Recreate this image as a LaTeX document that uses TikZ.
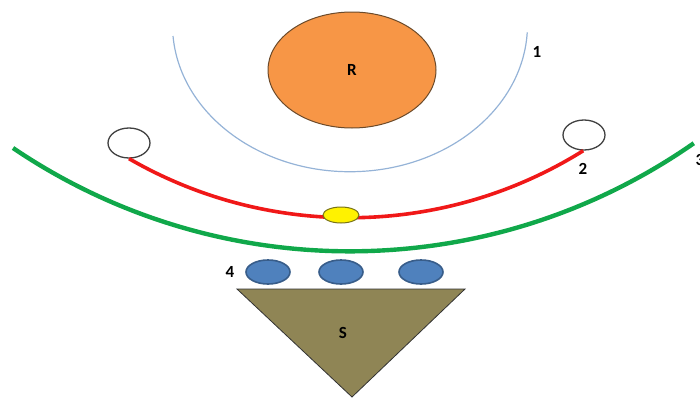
\documentclass[tikz,border=0pt]{standalone}
\usepackage{fontspec}
\setmainfont{Carlito}
\usetikzlibrary{shapes.geometric}
\definecolor{rOrange}{HTML}{F79646}
\definecolor{rBrown}{HTML}{6B4A2A}
\definecolor{arcBlue}{HTML}{95B3D7}
\definecolor{arcRed}{HTML}{F01818}
\definecolor{arcGreen}{HTML}{10A84A}
\definecolor{beadFill}{HTML}{4F81BD}
\definecolor{beadLine}{HTML}{385D8A}
\definecolor{sOlive}{HTML}{8F8555}

\begin{document}
\begin{tikzpicture}[x=1pt,y=-1pt,
  lbl/.style={font=\fontsize{17}{20}\selectfont\bfseries},
  ring/.style={ellipse,draw=black!75,line width=1.3pt,fill=white,minimum width=42pt,minimum height=30pt,inner sep=0pt},
  bead/.style={ellipse,draw=beadLine,line width=1.6pt,fill=beadFill,minimum width=44pt,minimum height=24pt,inner sep=0pt}]
\useasboundingbox (0,0) rectangle (700,399);
% core and inner orbit
\node[ellipse,draw=rBrown,line width=1pt,fill=rOrange,minimum width=168pt,minimum height=116pt,lbl] (R) at (352,70) {R};
\draw[arcBlue,line width=1.2pt] (173,36) arc[start angle=175.6,end angle=3,x radius=177.5,y radius=147];
\node[lbl] (n1) at (537,52) {1};
% rail with end rings
\node[ring] (cL) at (129,143) {};
\node[ring] (cR) at (584,135) {};
\draw[arcRed,line width=3.6pt] (cL.south) arc[start angle=120,end angle=58,radius=441];
\node[ellipse,draw=olive!80!black,line width=1pt,fill=yellow,minimum width=36pt,minimum height=16pt,inner sep=0pt] (Y) at (341,215) {};
\node[lbl] (n2) at (583,169) {2};
% outer orbit
\draw[arcGreen,line width=4.4pt] (13,148) arc[start angle=124.1,end angle=55.1,radius=601];
\node[lbl] (n3) at (700,160) {3};
% beads and base
\node[bead] (b1) at (268,272) {};
\node[bead] (b2) at (341,272) {};
\node[bead] (b3) at (421,272) {};
\node[lbl] (n4) at (230,272) {4};
\draw[fill=sOlive,draw=black!80,line width=0.8pt] (237,289)--(465,289)--(352,397)--cycle;
\node[lbl] (S) at (343,333) {S};
\end{tikzpicture}
\end{document}
